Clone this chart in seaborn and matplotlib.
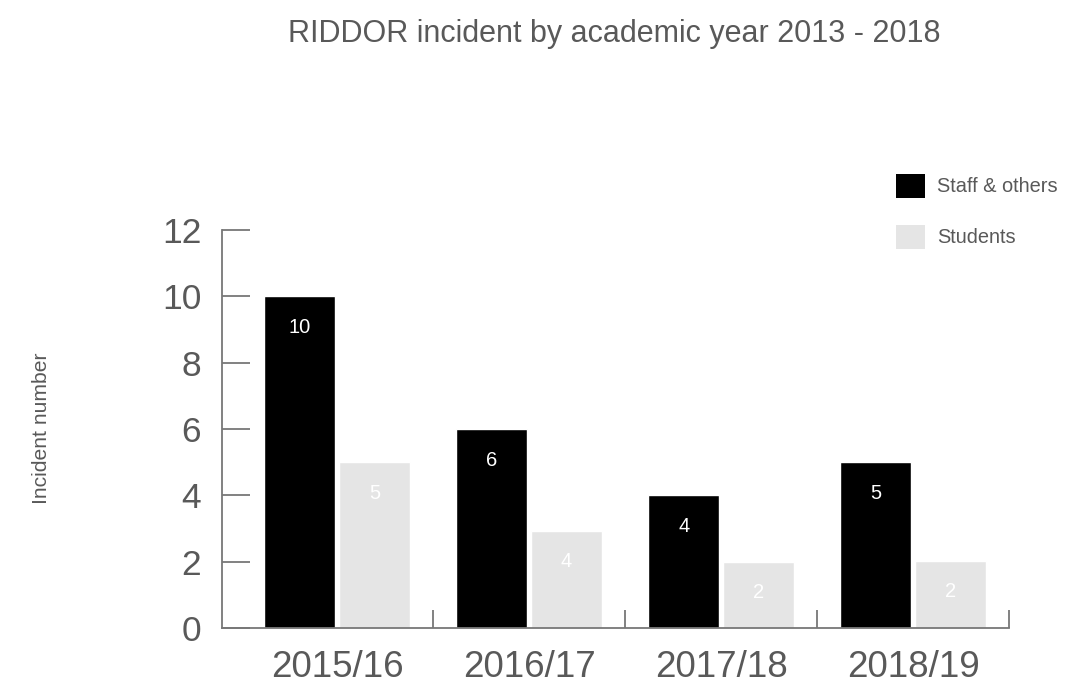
import matplotlib
matplotlib.use("Agg")
import matplotlib.pyplot as plt
import seaborn as sns
import pandas as pd
from matplotlib.patches import Patch

years = ["2015/16", "2016/17", "2017/18", "2018/19"]
staff = [10, 6, 4, 5]
students = [5, 2.93, 2.0, 2.03]
staff_labels = ["10", "6", "4", "5"]
student_labels = ["5", "4", "2", "2"]
series = ["Staff & others", "Students"]
colors = ["#000000", "#e5e5e5"]

df = pd.DataFrame({
    "year": years * 2,
    "value": staff + students,
    "series": [series[0]] * 4 + [series[1]] * 4,
})

sns.set_style("white")
plt.rcParams["font.family"] = ["Liberation Sans", "DejaVu Sans"]

fig = plt.figure(figsize=(10.65, 6.91), dpi=100)
ax = fig.add_axes([222 / 1065, 1 - 628 / 691, (1009 - 222) / 1065, (628 - 230) / 691])

sns.barplot(data=df, x="year", y="value", hue="series", palette=colors,
            width=0.776, gap=0.047, ax=ax, legend=False, saturation=1,
            order=years, hue_order=series)

grey = "#595959"
for cont, labs in zip(ax.containers, [staff_labels, student_labels]):
    for p, lab in zip(cont.patches, labs):
        ax.annotate(lab, (p.get_x() + p.get_width() / 2, p.get_height()),
                    xytext=(0, -31), textcoords="offset pixels",
                    ha="center", va="center", color="white", fontsize=14.5)

ax.set_xlim(-0.6, 3.5)
ax.set_ylim(0, 12)
ax.set_yticks(range(0, 13, 2))
ax.set_xticks(range(4))
ax.set_xticklabels(years)
ax.set_xlabel("")
ax.set_ylabel("")
for s in ["top", "right"]:
    ax.spines[s].set_visible(False)
for s in ["left", "bottom"]:
    ax.spines[s].set_color("#777777")
    ax.spines[s].set_linewidth(1.3)

ax.tick_params(axis="y", which="both", left=True, direction="in", length=20, width=1.3,
               color="#777777", labelsize=25.5, labelcolor=grey, pad=15)
ax.tick_params(axis="x", which="major", bottom=True, length=0, labelsize=26.5,
               labelcolor=grey, pad=16)
ax.set_xticks([0.5, 1.5, 2.5, 3.5], minor=True)
ax.tick_params(axis="x", which="minor", bottom=True, direction="in", length=13, width=1.3,
               color="#777777")

handles = [Patch(facecolor=c, edgecolor="none") for c in colors]
fig.legend(handles, series, loc="upper left", bbox_to_anchor=(896 / 1065, 1 - 174 / 691),
           frameon=False, fontsize=14.4, labelcolor=grey, handlelength=1.45, handleheight=1.45,
           labelspacing=1.35, handletextpad=0.6, borderpad=0, borderaxespad=0)

fig.text(614 / 1065, 1 - 34 / 691, "RIDDOR incident by academic year 2013 - 2018",
         ha="center", va="center", fontsize=22, color=grey)
fig.text(42 / 1065, 1 - 428 / 691, "Incident number", rotation=90,
         ha="center", va="center", fontsize=15.2, color=grey)

fig.savefig("out.png", dpi=100)
